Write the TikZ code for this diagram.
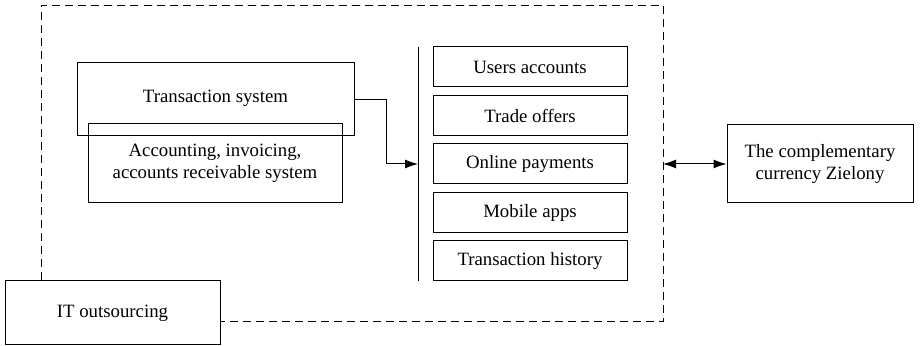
\documentclass[tikz,border=0pt]{standalone}
\usepackage{fontspec}
\setmainfont{Liberation Serif}
\usetikzlibrary{arrows.meta,positioning,calc}

\begin{document}
\begin{tikzpicture}[x=0.5pt, y=-0.5pt,
    box/.style={rectangle, draw, line width=0.5pt, align=center,
                font=\fontsize{9.4}{11}\selectfont, inner sep=1pt},
    modbox/.style={box, minimum width=97pt, minimum height=20pt},
    arr/.style={-{Latex[length=6.5pt,width=4.5pt]}, line width=0.5pt},
    dblarr/.style={{Latex[length=6.5pt,width=4.5pt]}-{Latex[length=6.5pt,width=4.5pt]}, line width=0.5pt},
    frame/.style={line width=0.5pt, dash pattern=on 4pt off 2.5pt}
]
    \useasboundingbox (0,0) rectangle (923,346);

    \node[box, minimum width=138.5pt, minimum height=36.5pt] (trans) at (215.5,99.5) {\raisebox{3pt}{Transaction system}};
    \node[box, minimum width=127pt, minimum height=39.5pt] (acct) at (215,163.5) {Accounting, invoicing,\\accounts receivable system};
    \node[box, minimum width=107.5pt, minimum height=32pt] (itout) at (112.5,313) {IT outsourcing};

    \node[modbox] (users) at (530,67) {Users accounts};
    \node[modbox] (trade) at (530,115.5) {Trade offers};
    \node[modbox] (online) at (530,164) {Online payments};
    \node[modbox] (mobile) at (530,212.5) {Mobile apps};
    \node[modbox] (history) at (530,261) {Transaction history};

    \node[box, minimum width=93pt, minimum height=39pt] (ziel) at (820,164) {The complementary\\currency Zielony};

    % platform bar and outer frame
    \coordinate (bartop) at (418,47);
    \coordinate (barbot) at (418,281);
    \coordinate (barmid) at (418,164);
    \coordinate (bend) at (386,164);
    \coordinate (ftl) at (41,6);
    \coordinate (fbr) at (663,322);
    \coordinate (fmid) at (663,164);

    \draw[line width=0.5pt] (bartop) -- (barbot);
    \draw[frame] (ftl |- itout.north) -- (ftl) -- (ftl -| fbr) -- (fbr) -- (itout.east |- fbr);

    \draw[arr] (trans.east) -| (bend) -- (barmid);
    \draw[dblarr] (fmid) -- (ziel.west);
\end{tikzpicture}
\end{document}
